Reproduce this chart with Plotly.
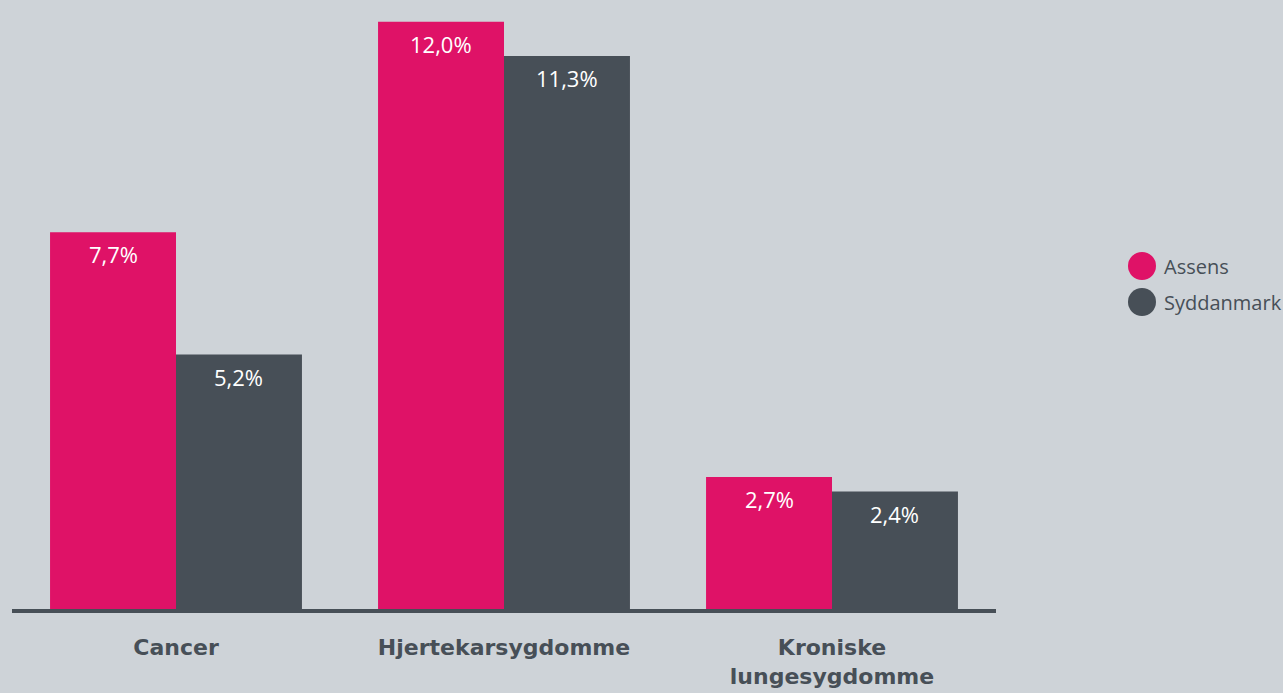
import plotly.graph_objects as go

# Andel med sygdom, procent
categories = ["Cancer", "Hjertekarsygdomme", "Kroniske<br>lungesygdomme"]
assens = [7.7, 12.0, 2.7]
syddanmark = [5.2, 11.3, 2.4]
series_names = ["Assens", "Syddanmark"]

PINK = "#df1267"
DARK = "#474f57"
BG = "#ced3d8"

W, H = 1283, 693
M_L, M_R, M_T, M_B = 12, 287, 12, 84
plot_w = W - M_L - M_R
plot_h = H - M_T - M_B

fig = go.Figure()
for name, vals, col in [(series_names[0], assens, PINK), (series_names[1], syddanmark, DARK)]:
    fig.add_trace(go.Bar(
        x=categories, y=vals, name=name, marker=dict(color=col, line=dict(width=0)),
        showlegend=False, hoverinfo="skip",
    ))

# value labels just inside the top of each bar
half = (1 - 0.232) / 4
annotations = []
for i, cat in enumerate(categories):
    for vals, dx in [(assens, -half), (syddanmark, half)]:
        annotations.append(dict(
            x=i + dx, y=vals[i], xref="x", yref="y",
            text=f"{vals[i]:.1f}".replace(".", ",") + "%",
            showarrow=False, yanchor="top", yshift=-5,
            font=dict(family="Open Sans", size=22, color="white"),
        ))

# legend drawn as large round markers with labels
shapes = []
legend_y = [266, 302]
cx = (1142 - M_L) / plot_w
tx = (1162 - M_L) / plot_w
for name, col, py in zip(series_names, [PINK, DARK], legend_y):
    yp = (H - M_B - py) / plot_h
    shapes.append(dict(
        type="circle", xref="paper", yref="paper",
        xsizemode="pixel", ysizemode="pixel", xanchor=cx, yanchor=yp,
        x0=-14, x1=14, y0=-14, y1=14,
        fillcolor=col, line=dict(width=0),
    ))
    annotations.append(dict(
        x=tx, y=yp, xref="paper", yref="paper", text=name, showarrow=False,
        xanchor="left", yanchor="middle",
        font=dict(family="Open Sans", size=20, color=DARK),
    ))

fig.update_layout(
    width=W, height=H,
    margin=dict(l=M_L, r=M_R, t=M_T, b=M_B, autoexpand=False),
    paper_bgcolor=BG, plot_bgcolor=BG,
    barmode="group", bargap=0.232, bargroupgap=0,
    annotations=annotations, shapes=shapes,
    showlegend=False,
)
fig.update_xaxes(
    showline=True, linecolor=DARK, linewidth=4, automargin=False,
    ticks="outside", ticklen=16, tickcolor="rgba(0,0,0,0)",
    tickfont=dict(family="DejaVu Sans", size=22, color=DARK, weight="bold"),
    showgrid=False, fixedrange=True,
)
fig.update_yaxes(
    range=[0, 12.2], visible=False, showgrid=False, zeroline=False,
    fixedrange=True, automargin=False,
)

fig.write_html("out.html", config={"displayModeBar": False})
